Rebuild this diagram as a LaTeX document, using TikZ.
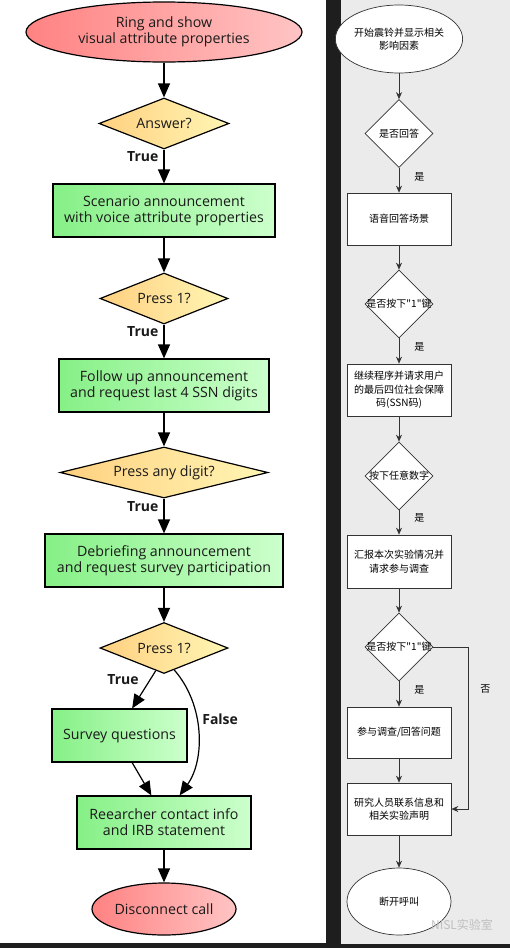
\documentclass[tikz,border=0pt]{standalone}
\usepackage{fontspec}
\setmainfont{Open Sans}
\newfontfamily\cjk{Noto Sans CJK SC}
\usetikzlibrary{shapes.geometric, arrows.meta}

\definecolor{sepdark}{HTML}{1E1E1E}
\definecolor{panelgray}{HTML}{EBEBEB}
\definecolor{redL}{HTML}{FF8282}
\definecolor{redR}{HTML}{FFC4C4}
\definecolor{grnL}{HTML}{86F086}
\definecolor{grnR}{HTML}{CCFFCC}
\definecolor{ylwL}{HTML}{FFD080}
\definecolor{ylwR}{HTML}{FFF6B4}
\definecolor{inkgray}{HTML}{333333}
\definecolor{txt}{HTML}{1A1A1A}

\begin{document}
\begin{tikzpicture}[x=1pt, y=-1pt, line width=1.2pt,
    term/.style={ellipse, draw, left color=redL, right color=redR, inner sep=0pt, align=center, text=txt, font=\fontsize{14.2}{16}\selectfont},
    dec/.style={diamond, draw, left color=ylwL, right color=ylwR, aspect=4, inner sep=0pt, minimum height=51pt, text=txt, font=\fontsize{14.2}{16}\selectfont},
    proc/.style={rectangle, draw, left color=grnL, right color=grnR, inner sep=0pt, minimum height=53pt, align=center, text=txt, font=\fontsize{14.2}{16}\selectfont},
    arr/.style={-{Triangle[length=14pt,width=12pt]}},
    tf/.style={inner sep=1pt, text=txt, font=\fontsize{14}{16}\selectfont\bfseries},
    cbox/.style={rectangle, draw=inkgray, fill=white, line width=0.7pt, minimum width=104pt, minimum height=53pt, inner sep=0pt, align=center, font=\cjk\fontsize{10}{13.5}\selectfont},
    cdec/.style={diamond, draw=inkgray, fill=white, line width=0.7pt, minimum width=68pt, minimum height=68pt, inner xsep=-20pt, inner ysep=0pt, font=\cjk\fontsize{10}{13.5}\selectfont},
    cterm/.style={ellipse, draw=inkgray, fill=white, line width=0.7pt, minimum width=104pt, minimum height=68pt, inner sep=0pt, align=center, font=\cjk\fontsize{10}{13.5}\selectfont},
    carr/.style={line width=0.7pt, draw=inkgray, -{Stealth[length=7pt,width=6pt]}},
    yes/.style={inner sep=1pt, font=\cjk\fontsize{10}{12}\selectfont}
]

    \useasboundingbox (0,0) rectangle (510,948);
    \fill[sepdark] (0,0) rectangle (510,948);
    \fill[white] (0,0) rectangle (326,943);
    \fill[panelgray] (341,0) rectangle (510,944);

    % English flow
    \node[term, minimum width=276pt, minimum height=60pt] (ring) at (164,32) {Ring and show\\visual attribute properties};
    \node[dec, minimum width=130pt] (ans) at (164,123.5) {Answer?};
    \node[proc, minimum width=222pt] (scn) at (164,210.5) {Scenario announcement\\with voice attribute properties};
    \node[dec, minimum width=128pt] (p1) at (164,298.5) {Press 1?};
    \node[proc, minimum width=210pt] (fol) at (164,385.5) {Follow up announcement\\and request last 4 SSN digits};
    \node[dec, minimum width=208pt] (anyd) at (164,472.5) {Press any digit?};
    \node[proc, minimum width=238pt] (deb) at (164,560.5) {Debriefing announcement\\and request survey participation};
    \node[dec, minimum width=128pt] (p2) at (164,648) {Press 1?};
    \node[proc, minimum width=135pt] (sq) at (119.5,735.5) {Survey questions};
    \node[proc, minimum width=174pt] (rc) at (164,822.5) {Reearcher contact info\\and IRB statement};
    \node[term, minimum width=144pt, minimum height=52pt] (stop) at (164,909) {Disconnect call};

    \draw[arr] (ring) -- (ans);
    \draw[arr] (ans) -- node[tf, pos=0.2, left=4pt] {True} (scn);
    \draw[arr] (scn) -- (p1);
    \draw[arr] (p1) -- node[tf, pos=0.2, left=4pt] {True} (fol);
    \draw[arr] (fol) -- (anyd);
    \draw[arr] (anyd) -- node[tf, pos=0.22, left=4pt] {True} (deb);
    \draw[arr] (deb) -- (p2);
    \draw[arr] (p2.-110) -- node[tf, pos=0.23, left=10pt] {True} (sq.65);
    \draw[arr] (p2.-65) .. controls (205,705) and (205,760) .. node[tf, pos=0.4, right=4pt] {False} (rc.60);
    \draw[arr] (sq.-65) -- (rc.115);
    \draw[arr] (rc) -- (stop);

    % Chinese flow
    \node[cterm] (c1) at (399,39) {开始震铃并显示相关\\影响因素};
    \node[cdec] (c2) at (399,133.5) {是否回答};
    \node[cbox, minimum height=52pt] (c3) at (399,219) {语音回答场景};
    \node[cdec] (c4) at (399,304) {是否按下"1"键};
    \node[cbox, minimum height=52pt] (c5) at (399,390) {继续程序并请求用户\\的最后四位社会保障\\码(SSN码)};
    \node[cdec] (c6) at (399,476) {按下任意数字};
    \node[cbox] (c7) at (399,561.5) {汇报本次实验情况并\\请求参与调查};
    \node[cdec] (c8) at (399,647) {是否按下"1"键};
    \node[cbox, minimum height=51pt] (c9) at (399,732.5) {参与调查/回答问题};
    \node[cbox, minimum height=52pt] (c10) at (399,809) {研究人员联系信息和\\相关实验声明};
    \node[cterm, minimum height=67pt] (c11) at (399,901.5) {断开呼叫};
    \coordinate (cturn) at (468,647);

    \draw[carr] (c1) -- (c2);
    \draw[carr] (c2) -- node[yes, pos=0.35, right=14pt] {是} (c3);
    \draw[carr] (c3) -- (c4);
    \draw[carr] (c4) -- node[yes, pos=0.35, right=14pt] {是} (c5);
    \draw[carr] (c5) -- (c6);
    \draw[carr] (c6) -- node[yes, pos=0.32, right=14pt] {是} (c7);
    \draw[carr] (c7) -- (c8);
    \draw[carr] (c8) -- node[yes, pos=0.35, right=14pt] {是} (c9);
    \draw[carr] (c9) -- (c10);
    \draw[carr] (c10) -- (c11);
    \draw[carr] (c8.east) -- (cturn) |- node[yes, pos=0.13, right=11pt] {否} (c10.east);

    \node[font=\cjk\fontsize{12}{12}\selectfont, text=black!25] (wm) at (462,925) {NISL实验室};

\end{tikzpicture}
\end{document}
